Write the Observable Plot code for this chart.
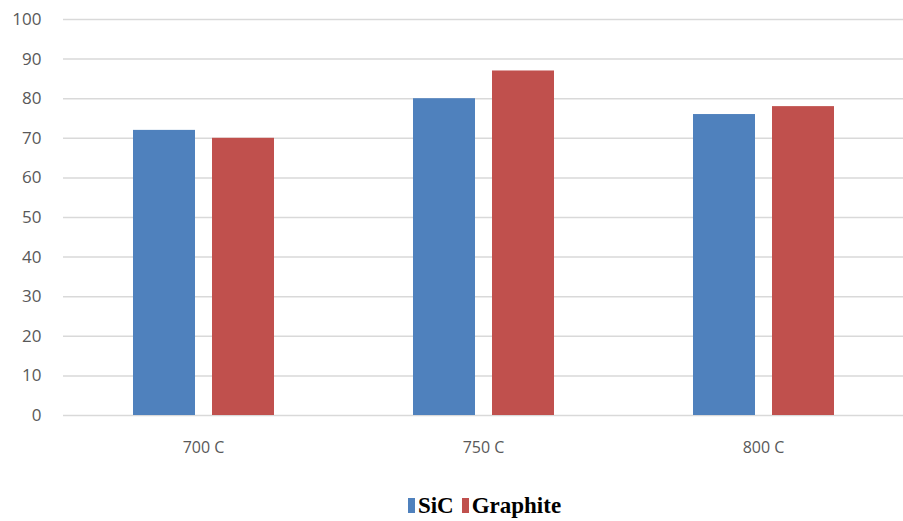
<!DOCTYPE html>
<html>
<head>
<meta charset="utf-8">
<script src="https://cdn.jsdelivr.net/npm/d3@7"></script>
<script src="https://cdn.jsdelivr.net/npm/@observablehq/plot@0.6"></script>
<style>
  body { margin: 0; background: #fff; }
  #chart svg { display: block; }
  .legend { width: 903px; height: 51px; box-sizing: border-box; padding-left: 66px; padding-top: 20px;
    display: flex; justify-content: center; align-items: center; gap: 8px;
    font-family: "Liberation Serif", "Times New Roman", serif; font-weight: bold; font-size: 23px; color: #000; line-height: 26px; }
  .legend .item { display: flex; align-items: center; gap: 3px; }
  .legend .sw { width: 7px; height: 15px; display: inline-block; }
</style>
</head>
<body>
<div id="chart"></div>
<div class="legend" id="legend"></div>
<script>
const categories = ["700 C", "750 C", "800 C"];
const series = ["SiC", "Graphite"];
const sicValues = [72, 80, 76];
const graphiteValues = [70, 87, 78];
const yTicks = [0, 10, 20, 30, 40, 50, 60, 70, 80, 90, 100];
const colors = ["#4f81bd", "#c0504d"];

const data = [];
categories.forEach((c, i) => {
  data.push({category: c, series: "SiC", value: sicValues[i]});
  data.push({category: c, series: "Graphite", value: graphiteValues[i]});
});

const chart = Plot.plot({
  width: 903,
  height: 470,
  marginTop: 19,
  marginBottom: 55,
  marginLeft: 62,
  marginRight: 0,
  style: {fontFamily: "'Open Sans', sans-serif", fontSize: "16px", color: "#595959", background: "#fff"},
  fx: {domain: categories, paddingInner: 0, paddingOuter: 0, label: null},
  x: {domain: series, paddingInner: 0.22, paddingOuter: 0.87, axis: null},
  y: {domain: [0, 100], ticks: yTicks, label: null},
  color: {domain: series, range: colors},
  marks: [
    Plot.gridY(yTicks, {stroke: "#d9d9d9", strokeOpacity: 1, strokeWidth: 1.5}),
    Plot.axisY(yTicks, {tickSize: 0, tickPadding: 22, fontSize: 17, fill: "#595959", label: null}),
    Plot.axisFx({anchor: "bottom", tickSize: 0, tickPadding: 26, fontSize: 16, fill: "#595959", label: null}),
    Plot.barY(data, {fx: "category", x: "series", y: "value", fill: "series"})
  ]
});
document.getElementById("chart").appendChild(chart);

const legend = document.getElementById("legend");
series.forEach((s, i) => {
  const item = document.createElement("span");
  item.className = "item";
  const sw = document.createElement("span");
  sw.className = "sw";
  sw.style.background = colors[i];
  item.appendChild(sw);
  const t = document.createElement("span");
  t.textContent = s;
  item.appendChild(t);
  legend.appendChild(item);
});
</script>
</body>
</html>
